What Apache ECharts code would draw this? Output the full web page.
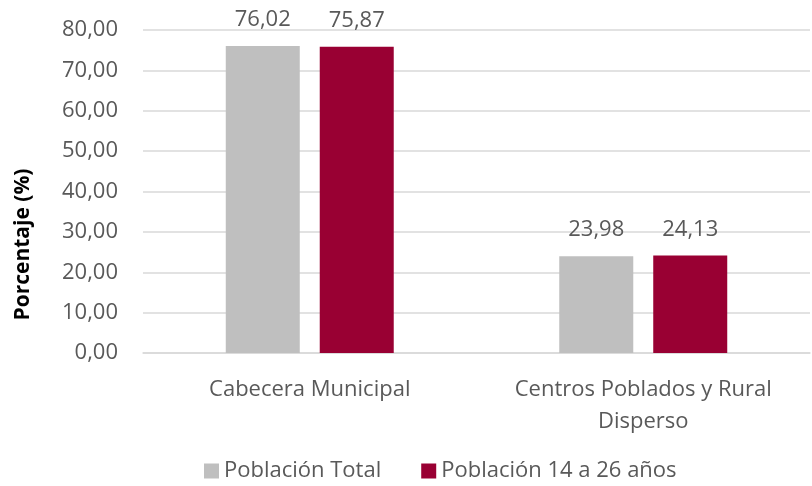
<!DOCTYPE html>
<html>
<head>
<meta charset="utf-8">
<script src="https://cdn.jsdelivr.net/npm/echarts@6/dist/echarts.min.js"></script>
<style>
  html, body { margin: 0; padding: 0; background: #fff; }
  #chart { width: 812px; height: 486px; }
</style>
</head>
<body>
<div id="chart"></div>
<script>
  var categories = ['Cabecera Municipal', 'Centros Poblados y Rural\nDisperso'];
  var seriesNames = ['Población Total', 'Población 14 a 26 años'];
  var poblacionTotal = [76.02, 23.98];
  var poblacionJoven = [75.87, 24.13];

  var fmt = function (v) { return Number(v).toFixed(2).replace('.', ','); };
  var textColor = '#595959';
  var font = '"Open Sans", "Noto Sans", sans-serif';

  var chart = echarts.init(document.getElementById('chart'));
  chart.setOption({
    backgroundColor: '#fff',
    textStyle: { fontFamily: font },
    grid: { left: 143, right: 2, top: 30, bottom: 133 },
    legend: {
      bottom: -1,
      left: 199,
      itemWidth: 15,
      itemHeight: 15,
      itemGap: 40,
      icon: 'rect',
      textStyle: { color: textColor, fontSize: 22, fontFamily: font },
      data: seriesNames
    },
    xAxis: {
      type: 'category',
      data: categories,
      axisLine: { lineStyle: { color: '#d9d9d9', width: 1.5 } },
      axisTick: { show: false },
      axisLabel: { color: textColor, fontSize: 22, margin: 21, lineHeight: 32, interval: 0, hideOverlap: false, fontFamily: font }
    },
    yAxis: {
      type: 'value',
      min: 0,
      max: 80,
      interval: 10,
      name: 'Porcentaje (%)',
      nameLocation: 'middle',
      nameGap: 109,
      // desplaza el titulo hacia abajo como en el original
      nameTextStyle: { color: '#000', fontSize: 21, fontWeight: 'bold', fontFamily: font, padding: [0, 106, 0, 0] },
      axisLine: { show: false },
      axisTick: { show: false },
      axisLabel: { color: textColor, fontSize: 22, margin: 25, formatter: fmt, fontFamily: font },
      splitLine: { lineStyle: { color: '#d9d9d9', width: 1.5 } }
    },
    series: [
      {
        name: seriesNames[0],
        type: 'bar',
        data: poblacionTotal,
        barWidth: 74,
        barGap: '27%',
        itemStyle: { color: '#bfbfbf' },
        label: { show: true, position: 'top', distance: 15, color: textColor, fontSize: 22, formatter: function (p) { return fmt(p.value); } }
      },
      {
        name: seriesNames[1],
        type: 'bar',
        data: poblacionJoven,
        barWidth: 74,
        itemStyle: { color: '#990033' },
        label: { show: true, position: 'top', distance: 15, color: textColor, fontSize: 22, formatter: function (p) { return fmt(p.value); } }
      }
    ]
  });
</script>
</body>
</html>
